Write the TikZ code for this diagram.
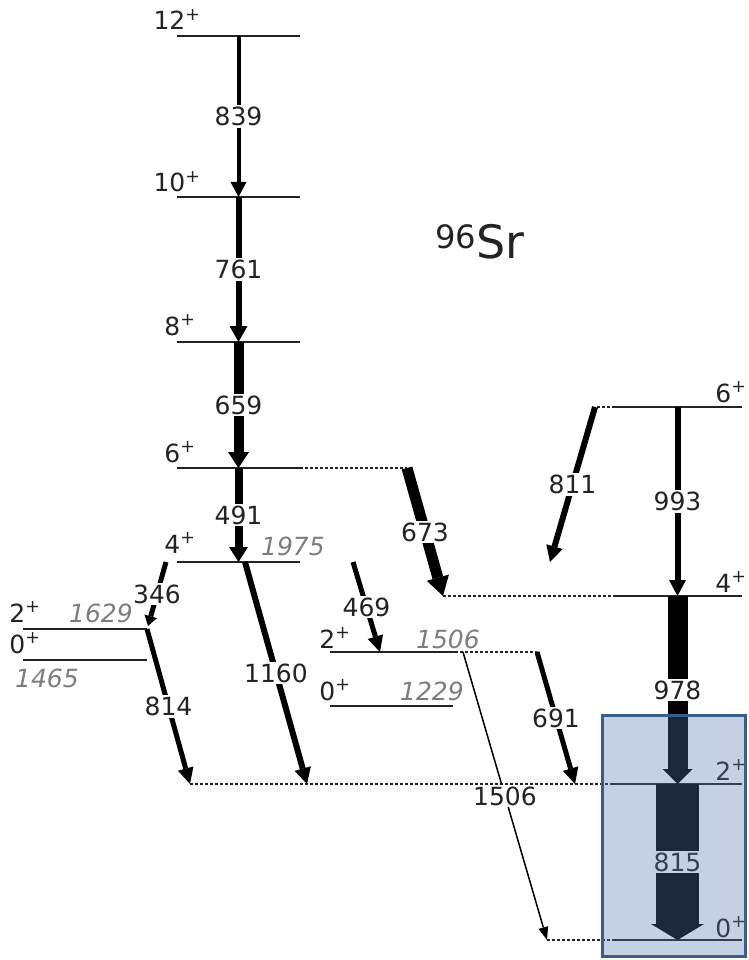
\documentclass[tikz,border=0pt]{standalone}
\usepackage{fontspec}
\setmainfont{DejaVu Sans}
\usetikzlibrary{arrows.meta, positioning, calc}
\definecolor{cBoxFill}{RGB}{82,120,173}
\definecolor{cBoxEdge}{RGB}{58,94,140}
\definecolor{cText}{RGB}{35,35,35}
\definecolor{cEnergy}{RGB}{125,125,125}
\tikzset{
	lvl/.style={line width=2pt, cText},
	link/.style={line width=1.8pt, dash pattern=on 3pt off 2pt, cText},
	gam/.style n args={3}{line width=#1pt, black, -{Triangle[length=#2pt, width=#3pt, line width=0pt]}},
	lab/.style={fill=white, inner xsep=1pt, inner ysep=2pt, text=cText, font=\fontsize{25}{29}\selectfont},
	spin/.style={anchor=base, inner sep=0pt, text=cText, font=\fontsize{25}{29}\selectfont},
	energy/.style={anchor=base, inner sep=0pt, text=cEnergy, font=\fontsize{25}{29}\selectfont\itshape},
	hilite/.style={draw=cBoxEdge, line width=3pt, fill=cBoxFill, fill opacity=0.34},
}

\begin{document}
\begin{tikzpicture}[x=1pt, y=-1pt]
	\useasboundingbox (0,0) rectangle (748,960);
	% yrast band
	\coordinate (L12w) at (177,36);  \coordinate (L12e) at (300,36);
	\coordinate (L10w) at (177,197); \coordinate (L10e) at (300,197);
	\coordinate (L8w)  at (177,342); \coordinate (L8e)  at (300,342);
	\coordinate (L6w)  at (177,468); \coordinate (L6e)  at (300,468);
	\coordinate (L4w)  at (177,562); \coordinate (L4e)  at (300,562);
	% side levels
	\coordinate (P2w) at (23,629);  \coordinate (P2e) at (147,629);
	\coordinate (P0w) at (23,660);  \coordinate (P0e) at (147,660);
	\coordinate (Q2w) at (330,652); \coordinate (Q2e) at (455,652);
	\coordinate (Q0w) at (330,706); \coordinate (Q0e) at (453,706);
	% right band
	\coordinate (R6w) at (613,407); \coordinate (R6e) at (742,407);
	\coordinate (R4w) at (613,596); \coordinate (R4e) at (742,596);
	\coordinate (R2w) at (613,784); \coordinate (R2e) at (742,784);
	\coordinate (R0w) at (613,940); \coordinate (R0e) at (742,940);
	% transition ends
	\coordinate (m12) at ($(L12w)!.5!(L12e)$); \coordinate (m10) at ($(L10w)!.5!(L10e)$);
	\coordinate (m8) at ($(L8w)!.5!(L8e)$);    \coordinate (m6) at ($(L6w)!.5!(L6e)$);
	\coordinate (m4) at ($(L4w)!.5!(L4e)$);
	\coordinate (n6) at ($(R6w)!.5!(R6e)$); \coordinate (n4) at ($(R4w)!.5!(R4e)$);
	\coordinate (n2) at ($(R2w)!.5!(R2e)$); \coordinate (n0) at ($(R0w)!.5!(R0e)$);
	\coordinate (x6) at (407,468);  \coordinate (x4) at (443,596);
	\coordinate (x6r) at (597,407); \coordinate (x2d) at (537,652);
	\coordinate (x2a) at (190,784); \coordinate (x2b) at (307,784);
	\coordinate (x2c) at (575,784); \coordinate (x0) at (547,940);
	\coordinate (s346) at (166,562);  \coordinate (e346) at (148,626);
	\coordinate (s1160) at (245,562); \coordinate (s469) at (353,562);
	\coordinate (e469) at (380,652);  \coordinate (s1506) at (463,652);
	\coordinate (s811) at (595,407);  \coordinate (e811) at (550,562);

	\foreach \l in {L12,L10,L8,L6,L4,P2,P0,Q2,Q0,R6,R4,R2,R0}
		\draw[lvl] (\l w) -- (\l e);
	\draw[link] (L6e) -- (x6);
	\draw[link] (x6r) -- (R6w);
	\draw[link] (x4) -- (R4w);
	\draw[link] (Q2e) -- (x2d);
	\draw[link] (x2a) -- (R2w);
	\draw[link] (x0) -- (R0w);

	\draw[gam={4}{15}{16}] (m12) -- node[lab] {839} (m10);
	\draw[gam={6}{16}{18}] (m10) -- node[lab] {761} (m8);
	\draw[gam={10}{16}{21}] (m8) -- node[lab] {659} (m6);
	\draw[gam={8}{15}{19}] (m6) -- node[lab] {491} (m4);
	\draw[gam={5}{10}{13}] (s346) -- node[lab] {346} (e346);
	\draw[gam={5}{16}{16}] (P2e) -- node[lab] {814} (x2a);
	\draw[gam={6}{16}{17}] (s1160) -- node[lab] {1160} (x2b);
	\draw[gam={5}{16}{16}] (s469) -- node[lab] {469} (e469);
	\draw[gam={11}{19}{23}] (x6) -- node[lab] {673} (x4);
	\draw[gam={6}{16}{17}] (s811) -- node[lab] {811} (e811);
	\draw[gam={6}{16}{17}] (n6) -- node[lab] {993} (n4);
	\draw[gam={20}{15}{30}] (n4) -- node[lab] {978} (n2);
	\draw[gam={5}{16}{16}] (x2d) -- node[lab] {691} (x2c);
	\draw[gam={1.5}{13}{10}] (s1506) -- node[lab] {1506} (x0);
	\draw[gam={43}{16}{53}] (n2) -- node[lab] {815} (n0);

	\node[spin] (j12) at (177,30) {12\textsuperscript{+}};
	\node[spin] (j10) at (177,192) {10\textsuperscript{+}};
	\node[spin] (j8) at (180,335) {8\textsuperscript{+}};
	\node[spin] (j6) at (180,462) {6\textsuperscript{+}};
	\node[spin] (j4) at (180,553) {4\textsuperscript{+}};
	\node[energy] (e1975) at (293,555) {1975};
	\node[spin] (jp2) at (25,622) {2\textsuperscript{+}};
	\node[energy] (e1629) at (101,622) {1629};
	\node[spin] (jp0) at (25,653) {0\textsuperscript{+}};
	\node[energy] (e1465) at (47,687) {1465};
	\node[spin] (jq2) at (335,648) {2\textsuperscript{+}};
	\node[energy] (e1506) at (448,648) {1506};
	\node[spin] (jq0) at (335,700) {0\textsuperscript{+}};
	\node[energy] (e1229) at (432,700) {1229};
	\node[spin] (jr6) at (731,402) {6\textsuperscript{+}};
	\node[spin] (jr4) at (731,592) {4\textsuperscript{+}};
	\node[spin] (jr2) at (731,780) {2\textsuperscript{+}};
	\node[spin] (jr0) at (731,937) {0\textsuperscript{+}};

	\node[spin, font=\fontsize{46}{52}\selectfont] (nuc) at (480,258) {\textsuperscript{96}Sr};

	\node[hilite, minimum width=143, minimum height=241, inner sep=0pt] (box) at (673.5,835.5) {};
\end{tikzpicture}
\end{document}
